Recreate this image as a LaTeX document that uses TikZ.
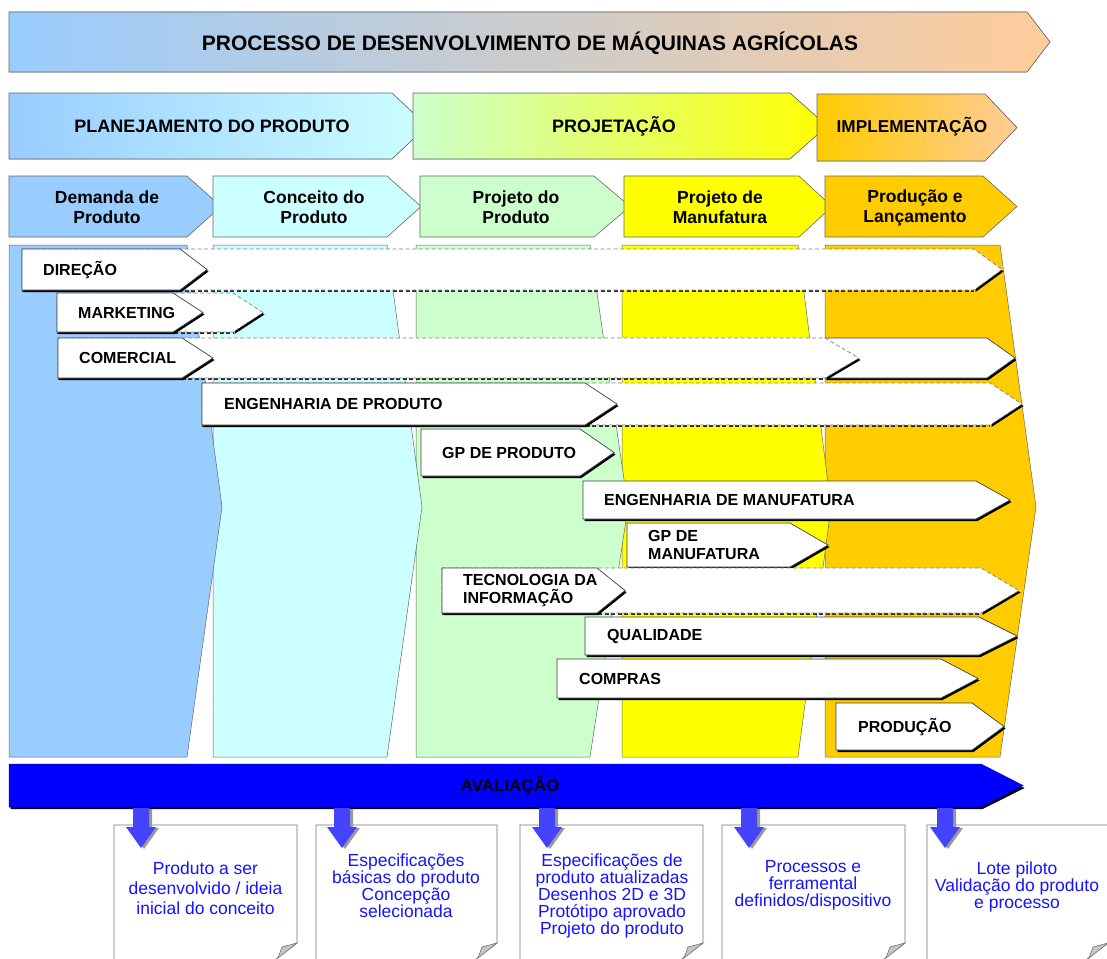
\documentclass[tikz,border=0pt]{standalone}
\usepackage{fontspec}
\setmainfont{Liberation Sans}
\definecolor{demanda}{HTML}{99CCFF}
\definecolor{conceito}{HTML}{CCFFFF}
\definecolor{projprod}{HTML}{CCFFCC}
\definecolor{manuf}{HTML}{FFFF00}
\definecolor{producao}{HTML}{FFCC00}
\definecolor{pessego}{HTML}{FFCC99}
\definecolor{avalia}{HTML}{0000FF}
\definecolor{setaazul}{HTML}{4444FF}
\definecolor{docazul}{HTML}{1414FF}
\newcommand{\seta}[6]{\filldraw[#1] (#2,#3) -- (#4,#3) -- (#6,{(#3+#5)/2}) -- (#4,#5) -- (#2,#5) -- cycle;}
\newcommand{\grupo}[5]{\fill[black,shift={(1.5,2)}] (#1,#2) -- (#3,#2) -- (#5,{(#2+#4)/2}) -- (#3,#4) -- (#1,#4) -- cycle;
  \seta{grupobox}{#1}{#2}{#3}{#4}{#5}}
\newcommand{\faixa}[5]{\fill[black,shift={(1.5,2)}] (#3,#2) -- (#5,{(#2+#4)/2}) -- (#3,#4) -- cycle;
  \draw[black!85,dash pattern=on 4pt off 2.5pt,line width=1.3pt] (#1,{#4+1}) -- (#3,{#4+1});
  \seta{faixabox}{#1}{#2}{#3}{#4}{#5}}
\newcommand{\coluna}[4]{\filldraw[coluna,fill=#1] (#2,245) -- (#3,245) -- (#4,507) -- (#3,757) -- (#2,757) -- cycle;}
\begin{document}
\begin{tikzpicture}[x=1pt, y=-1pt,
    fase/.style={draw=black!60, line width=0.6pt},
    coluna/.style={draw=black!60, line width=0.5pt},
    grupobox/.style={fill=white, draw=black!75, line width=0.7pt},
    faixabox/.style={fill=white, draw=black!50, dash pattern=on 4pt off 2.5pt, line width=0.7pt},
    docbox/.style={fill=white, draw=black!55, line width=0.7pt},
    titulo/.style={font=\bfseries\fontsize{18}{20}\selectfont, inner sep=0pt},
    fasetxt/.style={font=\bfseries\fontsize{17.5}{20}\selectfont, inner sep=0pt, align=center},
    rotulo/.style={font=\bfseries\fontsize{16}{18}\selectfont, anchor=west, inner sep=0pt, align=left},
    doctxt/.style={text=docazul, inner sep=0pt, align=center, font=\fontsize{17.5}{17}\selectfont}]
  \useasboundingbox (0,0) rectangle (1107,958);
  \clip (0,0) rectangle (1107,958);

  \seta{fase, left color=demanda, right color=pessego}{9}{12}{1027}{72}{1050}
  \node[titulo, font=\bfseries\fontsize{21}{24}\selectfont] (processo) at (530,43) {PROCESSO DE DESENVOLVIMENTO DE MÁQUINAS AGRÍCOLAS};

  \seta{fase, left color=demanda, right color=conceito}{9}{93}{392}{159}{427}
  \seta{fase, left color=projprod, right color=manuf}{413}{93}{790}{159}{827}
  \seta{fase, left color=producao, right color=pessego}{817}{94}{985}{161}{1017}
  \node[titulo] (planejamento) at (212,126) {PLANEJAMENTO DO PRODUTO};
  \node[titulo] (projetacao) at (614,126) {PROJETAÇÃO};
  \node[titulo, font=\bfseries\fontsize{17.2}{20}\selectfont] (implementacao) at (912,127) {IMPLEMENTAÇÃO};

  \seta{fase, fill=demanda}{9}{176}{187}{237}{221}
  \seta{fase, fill=conceito}{213}{176}{387}{237}{421}
  \seta{fase, fill=projprod}{420}{176}{594}{237}{630}
  \seta{fase, fill=manuf}{624}{176}{799}{237}{832}
  \seta{fase, fill=producao}{825}{176}{983}{237}{1017}
  \node[fasetxt] (demanda) at (107,207) {Demanda de\\Produto};
  \node[fasetxt] (conceito) at (314,207) {Conceito do\\Produto};
  \node[fasetxt] (projproduto) at (516,207) {Projeto do\\Produto};
  \node[fasetxt] (projmanuf) at (720,207) {Projeto de\\Manufatura};
  \node[fasetxt] (producao) at (915,208) {Produção e\\Lançamento};

  \coluna{producao}{825}{1000}{1036}
  \coluna{manuf}{622}{798}{831}
  \coluna{projprod}{416}{590}{628}
  \coluna{conceito}{213}{387}{422}
  \coluna{demanda}{9}{187}{222}

  \faixa{22}{249}{974}{290}{1002}
  \grupo{22}{249}{180}{290}{207}
  \faixa{57}{293}{233}{332}{263}
  \grupo{57}{293}{173}{332}{203}
  \grupo{825}{338}{987}{378}{1015}
  \faixa{58}{338}{825}{378}{859}
  \grupo{58}{338}{182}{378}{213}
  \faixa{202}{383}{990}{425}{1022}
  \grupo{202}{383}{585}{425}{617}
  \grupo{421}{429}{580}{476}{614}
  \grupo{583}{481}{976}{519}{1010}
  \grupo{627}{523}{790}{567}{828}
  \faixa{442}{568}{981}{613}{1019}
  \grupo{442}{568}{597}{613}{625}
  \grupo{585}{617}{979}{655}{1017}
  \grupo{557}{659}{941}{698}{978}
  \grupo{836}{703}{972}{750}{1004}
  \node[rotulo] (direcao) at (43,270) {DIREÇÃO};
  \node[rotulo] (marketing) at (78,313) {MARKETING};
  \node[rotulo] (comercial) at (79,358) {COMERCIAL};
  \node[rotulo] (engproduto) at (224,404) {ENGENHARIA DE PRODUTO};
  \node[rotulo] (gpproduto) at (442,453) {GP DE PRODUTO};
  \node[rotulo] (engmanuf) at (604,500) {ENGENHARIA DE MANUFATURA};
  \node[rotulo] (gpmanuf) at (648,545) {GP DE\\MANUFATURA};
  \node[rotulo] (ti) at (463,591) {TECNOLOGIA DA\\INFORMAÇÃO};
  \node[rotulo] (qualidade) at (607,636) {QUALIDADE};
  \node[rotulo] (compras) at (579,679) {COMPRAS};
  \node[rotulo] (producaogr) at (858,727) {PRODUÇÃO};

  \fill[black,shift={(1.5,2)}] (9,764) -- (981,764) -- (1023,786) -- (981,807) -- (9,807) -- cycle;
  \seta{fill=avalia, draw=avalia!80!black, line width=0.5pt}{9}{764}{981}{807}{1023}
  \node[titulo, font=\bfseries\fontsize{17}{20}\selectfont] (avaliacao) at (510,786) {AVALIAÇÃO};

  \foreach \a/\b in {114/297,316/497,520/703,722/905,927/1108}{
    \filldraw[docbox] (\a,825) -- (\b,825) -- (\b,943) -- (\b-25,962) -- (\a,962) -- cycle;
    \filldraw[fill=black!22, draw=black!55, line width=0.6pt] (\b,943) -- (\b-15,947) -- (\b-19,958) -- cycle;
  }
  \foreach \x in {141,342,547,749,945}{
    \fill[black!40,shift={(3,1)}] (\x-8,808) -- (\x+8,808) -- (\x+8,827) -- (\x+15,827) -- (\x,848) -- (\x-15,827) -- (\x-8,827) -- cycle;
    \fill[setaazul] (\x-8,808) -- (\x+8,808) -- (\x+8,827) -- (\x+15,827) -- (\x,848) -- (\x-15,827) -- (\x-8,827) -- cycle;
  }
  \node[doctxt, font=\fontsize{17.5}{20}\selectfont] (doc1) at (205.5,888) {Produto a ser\\desenvolvido / ideia\\inicial do conceito};
  \node[doctxt] (doc2) at (406,886) {Especificações\\básicas do produto\\Concepção\\selecionada};
  \node[doctxt] (doc3) at (612,896) {Especificações de\\produto atualizadas\\Desenhos 2D e 3D\\Protótipo aprovado\\Projeto do produto};
  \node[doctxt] (doc4) at (813,885) {Processos e\\ferramental\\definidos/dispositivo};
  \node[doctxt] (doc5) at (1017,887) {Lote piloto\\Validação do produto\\e processo};
\end{tikzpicture}
\end{document}
